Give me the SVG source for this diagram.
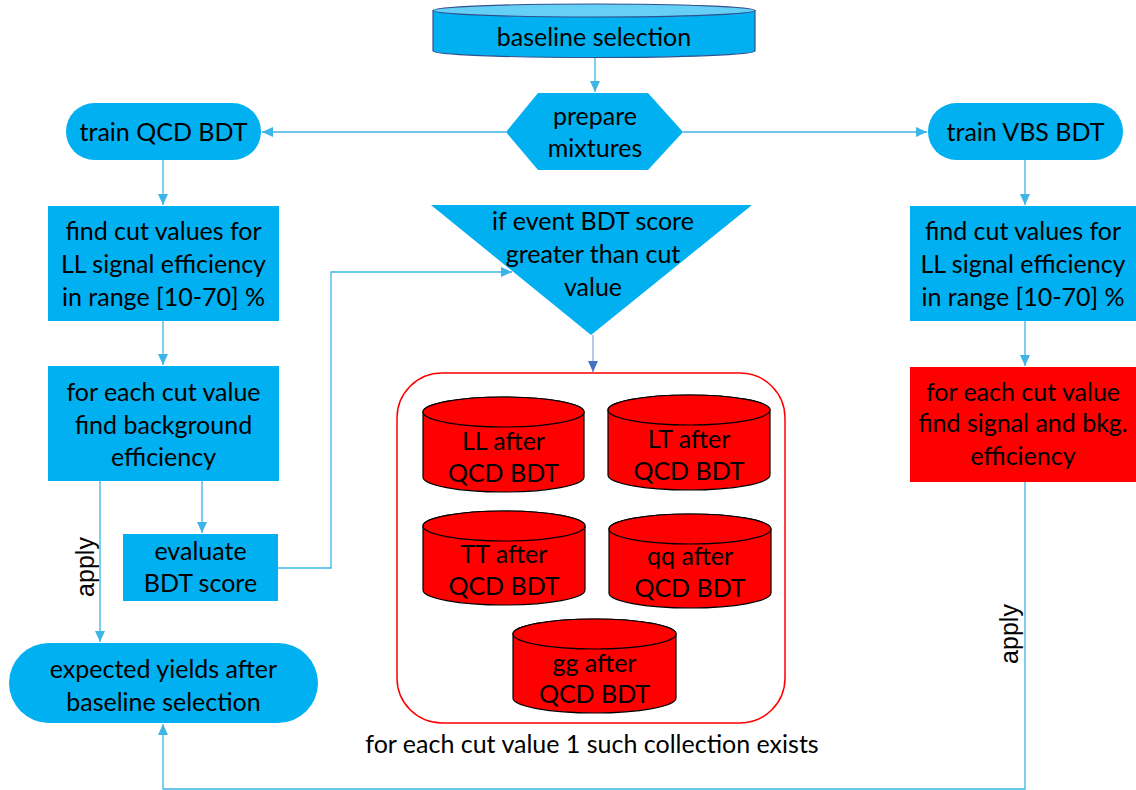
<svg xmlns="http://www.w3.org/2000/svg" width="1136" height="790" viewBox="0 0 1136 790">
<defs>
<style>
.t{font-family:Lato,"Open Sans","Liberation Sans",sans-serif;font-size:25px;fill:#000;text-anchor:middle}
.a{font-family:"Liberation Sans",Arial,sans-serif;font-size:25px;fill:#000;text-anchor:middle}
.blue{fill:#00b0f0}
.red{fill:#ff0000}
.cyl{fill:#ff0000;stroke:#000;stroke-width:1.2}
.c{fill:none;stroke:#3db5e6;stroke-width:1.3}
</style>
<marker id="ah" markerUnits="userSpaceOnUse" markerWidth="12" markerHeight="12" viewBox="0 0 12 12" refX="11" refY="6" orient="auto">
<path d="M0,1 L11,6 L0,11 Z" fill="#3db5e6"/>
</marker>
<marker id="ah2" markerUnits="userSpaceOnUse" markerWidth="12" markerHeight="12" viewBox="0 0 12 12" refX="11" refY="6" orient="auto">
<path d="M0,1 L11,6 L0,11 Z" fill="#4472c4"/>
</marker>
</defs>
<rect width="1136" height="790" fill="#fff"/>

<g id="connectors">
<path class="c" d="M595,57 V92" marker-end="url(#ah)"/>
<path class="c" d="M506,132 H262" marker-end="url(#ah)"/>
<path class="c" d="M683,132 H927" marker-end="url(#ah)"/>
<path class="c" d="M163,160 V205" marker-end="url(#ah)"/>
<path class="c" d="M163,321 V365" marker-end="url(#ah)"/>
<path class="c" d="M202,481 V533" marker-end="url(#ah)"/>
<path class="c" d="M100,481 V642" marker-end="url(#ah)"/>
<path class="c" d="M278,568 H331 V272 H512" marker-end="url(#ah)"/>
<path d="M593,335 V372" fill="none" stroke="#8faadc" stroke-width="1.3" marker-end="url(#ah2)"/>
<path class="c" d="M1025,160 V205" marker-end="url(#ah)"/>
<path class="c" d="M1025,321 V366" marker-end="url(#ah)"/>
<path class="c" d="M1025,482 V789 H163 V724" marker-end="url(#ah)"/>
<text class="a" transform="translate(94,567) rotate(-90)">apply</text>
<text class="a" transform="translate(1018,634) rotate(-90)">apply</text>
</g>

<g id="baseline-selection">
<path d="M433,10.5 V51 A161,6.5 0 0 0 755,51 V10.5 Z" fill="#00b0f0" stroke="#2f528f" stroke-width="1.2"/>
<ellipse cx="594" cy="10.5" rx="161" ry="6.5" fill="#66cff6" stroke="#2f528f" stroke-width="1.2"/>
<text class="t" x="594" y="46">baseline selection</text>
</g>

<g id="prepare-mixtures">
<polygon class="blue" points="506,132 538,93 648,93 683,132 648,170 538,170"/>
<text class="t" x="595" y="125">prepare</text>
<text class="t" x="595" y="157">mixtures</text>
</g>

<g id="train-qcd">
<rect class="blue" x="66" y="103" width="195" height="57" rx="28.5"/>
<text class="t" x="163.5" y="141">train QCD BDT</text>
</g>

<g id="qcd-find-cut">
<rect class="blue" x="48" y="206" width="231" height="115"/>
<text class="t" x="163.5" y="240">find cut values for</text>
<text class="t" x="163.5" y="273">LL signal efficiency</text>
<text class="t" x="163.5" y="306">in range [10-70] %</text>
</g>

<g id="qcd-bkg-eff">
<rect class="blue" x="48" y="366" width="231" height="115"/>
<text class="t" x="163.5" y="401">for each cut value</text>
<text class="t" x="163.5" y="434">find background</text>
<text class="t" x="163.5" y="466">efficiency</text>
</g>

<g id="evaluate">
<rect class="blue" x="123" y="534" width="155" height="67"/>
<text class="t" x="200.5" y="560">evaluate</text>
<text class="t" x="200.5" y="592">BDT score</text>
</g>

<g id="expected-yields">
<rect class="blue" x="9" y="643" width="309" height="80" rx="40"/>
<text class="t" x="163.5" y="678">expected yields after</text>
<text class="t" x="163.5" y="711">baseline selection</text>
</g>

<g id="if-event">
<polygon class="blue" points="431,205 752,205 591,335"/>
<text class="t" x="593" y="230">if event BDT score</text>
<text class="t" x="593" y="263">greater than cut</text>
<text class="t" x="593" y="296">value</text>
</g>

<g id="collection">
<rect x="397" y="373" width="388" height="350" rx="45" fill="#fff" stroke="#ff0000" stroke-width="1.5"/>
<text class="t" x="592" y="753">for each cut value 1 such collection exists</text>
</g>

<g id="cyl-ll">
<path class="cyl" d="M423,412 A80.5,15 0 0 1 584,412 V477 A80.5,15 0 0 1 423,477 Z"/>
<ellipse class="cyl" cx="503.5" cy="412" rx="80.5" ry="15"/>
<text class="t" x="503.5" y="450">LL after</text>
<text class="t" x="503.5" y="482">QCD BDT</text>
</g>

<g id="cyl-lt">
<path class="cyl" d="M608,410 A81,15 0 0 1 770,410 V475 A81,15 0 0 1 608,475 Z"/>
<ellipse class="cyl" cx="689" cy="410" rx="81" ry="15"/>
<text class="t" x="689" y="448">LT after</text>
<text class="t" x="689" y="480">QCD BDT</text>
</g>

<g id="cyl-tt">
<path class="cyl" d="M423,526 A81,15 0 0 1 585,526 V590 A81,15 0 0 1 423,590 Z"/>
<ellipse class="cyl" cx="504" cy="526" rx="81" ry="15"/>
<text class="t" x="504" y="563">TT after</text>
<text class="t" x="504" y="595">QCD BDT</text>
</g>

<g id="cyl-qq">
<path class="cyl" d="M609,529 A81,15 0 0 1 771,529 V593 A81,15 0 0 1 609,593 Z"/>
<ellipse class="cyl" cx="690" cy="529" rx="81" ry="15"/>
<text class="t" x="690" y="565">qq after</text>
<text class="t" x="690" y="597">QCD BDT</text>
</g>

<g id="cyl-gg">
<path class="cyl" d="M513,634 A81.5,15 0 0 1 676,634 V698 A81.5,15 0 0 1 513,698 Z"/>
<ellipse class="cyl" cx="594.5" cy="634" rx="81.5" ry="15"/>
<text class="t" x="594.5" y="672">gg after</text>
<text class="t" x="594.5" y="703">QCD BDT</text>
</g>

<g id="train-vbs">
<rect class="blue" x="928" y="103" width="195" height="57" rx="28.5"/>
<text class="t" x="1025.5" y="141">train VBS BDT</text>
</g>

<g id="vbs-find-cut">
<rect class="blue" x="910" y="206" width="226" height="115"/>
<text class="t" x="1023" y="240">find cut values for</text>
<text class="t" x="1023" y="273">LL signal efficiency</text>
<text class="t" x="1023" y="306">in range [10-70] %</text>
</g>

<g id="vbs-sig-bkg">
<rect class="red" x="910" y="367" width="226" height="115"/>
<text class="t" x="1023" y="401">for each cut value</text>
<text class="t" x="1023" y="432">find signal and bkg.</text>
<text class="t" x="1023" y="465">efficiency</text>
</g>
</svg>
